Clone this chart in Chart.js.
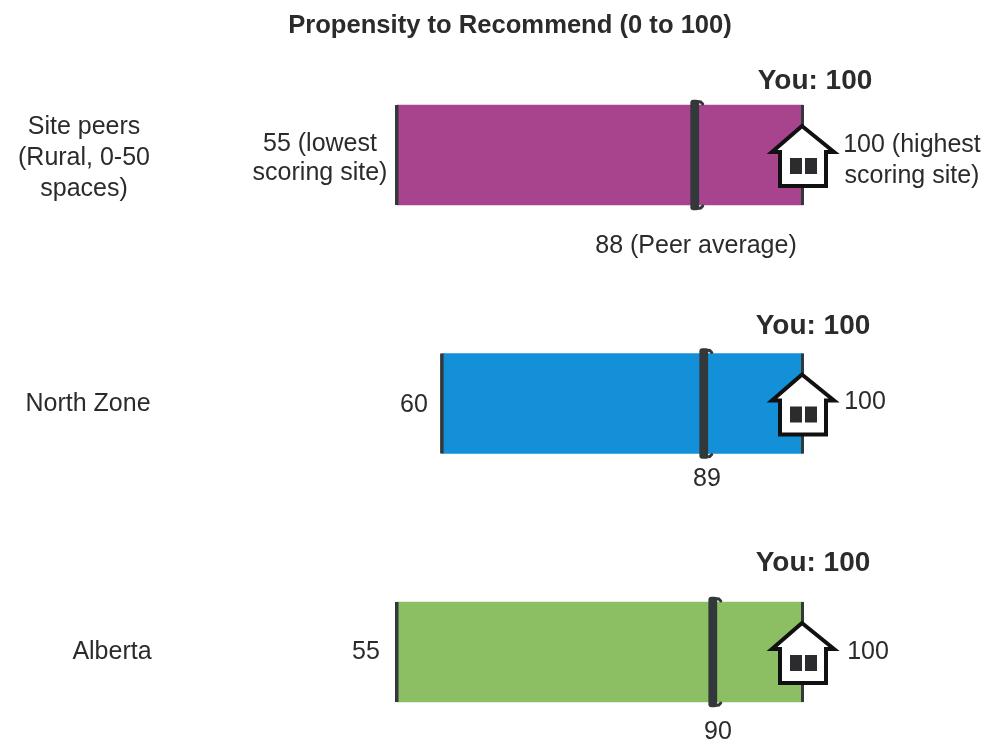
<!DOCTYPE html>
<html>
<head>
<meta charset="utf-8">
<title>Propensity to Recommend</title>
<script src="https://cdn.jsdelivr.net/npm/chart.js@4"></script>
<style>
  html, body { margin: 0; background: #fff; }
  canvas { display: block; }
</style>
</head>
<body>
<canvas id="myChart" width="984" height="744"></canvas>
<script>
const title = "Propensity to Recommend (0 to 100)";
const categories = ["Site peers", "North Zone", "Alberta"];
const categoryLines = [["Site peers", "(Rural, 0-50", "spaces)"], ["North Zone"], ["Alberta"]];
const lowest = [55, 60, 55];
const highest = [100, 100, 100];
const average = [88, 89, 90];
const you = [100, 100, 100];
const lowLabels = [["55 (lowest", "scoring site)"], ["60"], ["55"]];
const highLabels = [["100 (highest", "scoring site)"], ["100"], ["100"]];
const averageLabels = ["88 (Peer average)", "89", "90"];
const barColors = ["#a8438d", "#1390d8", "#8cbf63"];

const FONT = '"Liberation Sans", Arial, sans-serif';
const INK = "#2b2b2b";
const DARK = "#33383a";

// where each row's text sits, in canvas pixels
const textSpots = [
  { cat: [84, [127, 158, 189]], low: [320, [144, 173]], high: [912, [145, 176]], avg: [696, 246], you: [815, 81] },
  { cat: [88, [404]], low: [414, [405]], high: [865, [402]], avg: [707, 479], you: [813, 326] },
  { cat: [112, [652]], low: [366, [652]], high: [868, [652]], avg: [718, 732], you: [813, 563] },
];

function drawText(ctx, str, x, y, font) {
  ctx.font = font;
  ctx.fillStyle = INK;
  ctx.textAlign = "center";
  ctx.textBaseline = "middle";
  ctx.fillText(str, x, y);
}

function drawHouse(ctx, x, y) {
  ctx.save();
  ctx.translate(x, y);
  ctx.beginPath();
  ctx.moveTo(-1, -29);
  ctx.lineTo(-31, -3);
  ctx.lineTo(-23, -3);
  ctx.lineTo(-23, 31);
  ctx.lineTo(23, 31);
  ctx.lineTo(23, -3);
  ctx.lineTo(31, -3);
  ctx.closePath();
  ctx.fillStyle = "#fff";
  ctx.fill();
  ctx.strokeStyle = "#111";
  ctx.lineWidth = 4;
  ctx.stroke();
  ctx.fillStyle = "#2c2c2e";
  ctx.fillRect(-13, 3, 12, 16);
  ctx.fillRect(2, 3, 12, 16);
  ctx.restore();
}

// end ticks, bracket caps, houses and all the text
const markerPlugin = {
  id: "markers",
  afterDatasetsDraw(chart) {
    const ctx = chart.ctx;
    const xs = chart.scales.x;
    const ys = chart.scales.y;

    ctx.save();
    drawText(ctx, title, 510, 26, "bold 25.6px " + FONT);

    categories.forEach((name, i) => {
      const cy = ys.getPixelForValue(i);
      const spot = textSpots[i];

      ctx.fillStyle = DARK;
      ctx.fillRect(xs.getPixelForValue(lowest[i]) - 2, cy - 50, 3.5, 100);
      ctx.fillRect(xs.getPixelForValue(highest[i]) - 2, cy - 50, 3, 100);

      // short caps turn the average bar into a bracket
      const mx = xs.getPixelForValue(average[i]);
      ctx.strokeStyle = DARK;
      ctx.lineWidth = 3;
      ctx.lineCap = "round";
      ctx.beginPath();
      ctx.moveTo(mx + 8, cy - 51);
      ctx.lineTo(mx + 6, cy - 53);
      ctx.lineTo(mx + 2, cy - 53.5);
      ctx.moveTo(mx + 8, cy + 51);
      ctx.lineTo(mx + 6, cy + 53);
      ctx.lineTo(mx + 2, cy + 53.5);
      ctx.stroke();

      drawHouse(ctx, xs.getPixelForValue(you[i]), cy);

      categoryLines[i].forEach((line, k) => drawText(ctx, line, spot.cat[0], spot.cat[1][k], "25px " + FONT));
      lowLabels[i].forEach((line, k) => drawText(ctx, line, spot.low[0], spot.low[1][k], "25px " + FONT));
      highLabels[i].forEach((line, k) => drawText(ctx, line, spot.high[0], spot.high[1][k], "25px " + FONT));
      drawText(ctx, averageLabels[i], spot.avg[0], spot.avg[1], "25px " + FONT);
      drawText(ctx, "You: " + you[i], spot.you[0], spot.you[1], "bold 28px " + FONT);
    });
    ctx.restore();
  },
};

new Chart(document.getElementById("myChart").getContext("2d"), {
  type: "bar",
  data: {
    labels: categories,
    datasets: [
      {
        label: "Score range",
        data: categories.map((_, i) => [lowest[i], highest[i]]),
        backgroundColor: barColors,
        barThickness: 100,
        order: 2,
        clip: false,
      },
      {
        label: "Average",
        data: average.map((v) => [v - 0.45, v + 0.45]),
        backgroundColor: DARK,
        borderRadius: 3,
        borderSkipped: false,
        barThickness: 110,
        order: 1,
        clip: false,
      },
    ],
  },
  options: {
    indexAxis: "y",
    responsive: false,
    animation: false,
    layout: { padding: { left: 397, right: 181, top: 155, bottom: 92 } },
    datasets: { bar: { grouped: false } },
    plugins: { legend: { display: false }, tooltip: { enabled: false } },
    scales: {
      x: { type: "linear", min: 55, max: 100, display: false },
      y: { type: "category", offset: false, display: false },
    },
  },
  plugins: [markerPlugin],
});
</script>
</body>
</html>
